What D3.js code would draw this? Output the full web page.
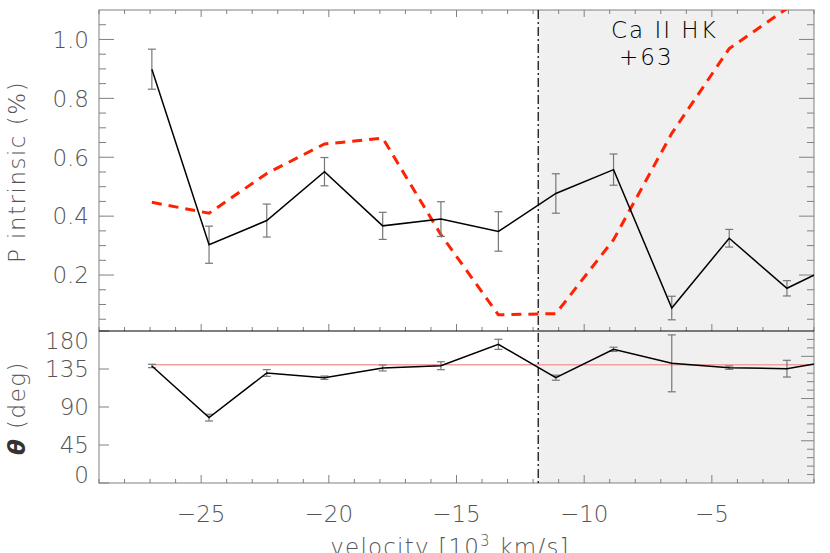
<!DOCTYPE html>
<html>
<head>
<meta charset="utf-8">
<script src="https://cdn.jsdelivr.net/npm/d3@7"></script>
<style>
  body { margin: 0; background: #fff; }
  text { font-family: "DejaVu Sans", sans-serif; font-weight: 200; }
</style>
</head>
<body>
<div id="chart"></div>
<script>
// velocity bins (10^3 km/s), last one falls just outside the plot
var velocity = [-26.93, -24.69, -22.43, -20.17, -17.89, -15.61, -13.36, -11.11, -8.85, -6.57, -4.32, -2.06, 0.2];
var pIntrinsic = [0.899, 0.303, 0.385, 0.551, 0.367, 0.390, 0.348, 0.477, 0.558, 0.088, 0.325, 0.155, 0.25];
var pError = [0.068, 0.063, 0.056, 0.048, 0.046, 0.059, 0.067, 0.067, 0.053, 0.040, 0.030, 0.026, 0.03];
var fluxProfile = [0.447, 0.410, 0.545, 0.645, 0.665, 0.337, 0.065, 0.069, 0.320, 0.681, 0.969, 1.105, 1.2];
var theta = [138.6, 77.4, 130.3, 124.7, 136.2, 138.9, 164.2, 124.7, 158.3, 141.7, 136.6, 135.4, 147];
var thetaError = [2, 4, 4, 2, 3.5, 4.7, 6, 3, 2.5, 33.7, 2, 9.9, 3];
var thetaRef = 140;
var lineVelocity = -11.8;

var xTicks = [-25, -20, -15, -10, -5];
var pTicks = [0.2, 0.4, 0.6, 0.8, 1.0];
var thetaTicks = [0, 45, 90, 135, 180];
var annotation = ["Ca II HK", "+63"];

var svgWidth = 830;
var svgHeight = 553;

var left = 99, right = 814;
var top1 = 10, mid = 331, bottom2 = 483;

var svg = d3.select("#chart")
  .append("svg")
  .attr("width", svgWidth)
  .attr("height", svgHeight);

var xScale = d3.scaleLinear().domain([-29, -1]).range([left, right]);
var yTop = d3.scaleLinear().domain([0.01, 1.1]).range([mid, top1]);
var yBot = d3.scaleLinear().domain([0, 180]).range([bottom2, mid]);

var frameColor = "#808080";
var labelColor = "#555";

// clip paths for the two panels
var defs = svg.append("defs");
defs.append("clipPath").attr("id", "clipTop")
  .append("rect").attr("x", left).attr("y", top1).attr("width", right - left).attr("height", mid - top1);
defs.append("clipPath").attr("id", "clipBot")
  .append("rect").attr("x", left).attr("y", mid).attr("width", right - left).attr("height", bottom2 - mid);

// shaded region right of the line
svg.append("rect")
  .attr("x", xScale(lineVelocity))
  .attr("y", top1)
  .attr("width", right - xScale(lineVelocity))
  .attr("height", bottom2 - top1)
  .attr("fill", "#f0f0f0");

var minorX = d3.range(-29, 0, 1).filter(d => xTicks.indexOf(d) < 0);

// draw the x ticks of a horizontal edge, dir = +1 ticks go down, -1 go up
function xEdge(y, dir, major, minor) {
  var g = svg.append("g");
  g.selectAll(".mj").data(xTicks).enter().append("line")
    .attr("x1", d => xScale(d)).attr("x2", d => xScale(d))
    .attr("y1", y).attr("y2", y + dir * major)
    .attr("stroke", frameColor);
  g.selectAll(".mn").data(minorX).enter().append("line")
    .attr("x1", d => xScale(d)).attr("x2", d => xScale(d))
    .attr("y1", y).attr("y2", y + dir * minor)
    .attr("stroke", frameColor);
}
xEdge(top1, 1, 7, 4);
xEdge(mid, -1, 7, 4);
xEdge(bottom2, -1, 8, 4);

// top panel y ticks (both sides)
var pMinor = d3.range(0.05, 1.1, 0.05).filter(d => pTicks.every(t => Math.abs(t - d) > 1e-6));
[[left, 1], [right, -1]].forEach(function(s) {
  svg.append("g").selectAll("line").data(pTicks).enter().append("line")
    .attr("x1", s[0]).attr("x2", s[0] + s[1] * 15)
    .attr("y1", d => yTop(d)).attr("y2", d => yTop(d))
    .attr("stroke", frameColor);
  svg.append("g").selectAll("line").data(pMinor).enter().append("line")
    .attr("x1", s[0]).attr("x2", s[0] + s[1] * 7)
    .attr("y1", d => yTop(d)).attr("y2", d => yTop(d))
    .attr("stroke", frameColor);
});

// bottom panel y ticks
svg.append("g").selectAll("line").data(thetaTicks).enter().append("line")
  .attr("x1", left).attr("x2", left + 10)
  .attr("y1", d => yBot(d)).attr("y2", d => yBot(d))
  .attr("stroke", frameColor);
svg.append("g").selectAll("line").data(d3.range(10, 180, 10)).enter().append("line")
  .attr("x1", right).attr("x2", d => right - (d % 50 == 0 ? 13 : 7))
  .attr("y1", d => yBot(d)).attr("y2", d => yBot(d))
  .attr("stroke", frameColor);

// frame
svg.append("rect")
  .attr("x", left).attr("y", top1)
  .attr("width", right - left).attr("height", bottom2 - top1)
  .attr("fill", "none")
  .attr("stroke", frameColor);
svg.append("line")
  .attr("x1", left).attr("x2", right)
  .attr("y1", mid).attr("y2", mid)
  .attr("stroke", "#000");

// dash-dot boundary
svg.append("line")
  .attr("x1", xScale(lineVelocity)).attr("x2", xScale(lineVelocity))
  .attr("y1", top1).attr("y2", bottom2)
  .attr("stroke", "#000")
  .attr("stroke-width", 1.2)
  .attr("stroke-dasharray", "9,3,2,3");

// ---- top panel data ----
var topG = svg.append("g").attr("clip-path", "url(#clipTop)");

var rows = velocity.map((v, i) => ({v: v, p: pIntrinsic[i], pe: pError[i], f: fluxProfile[i], t: theta[i], te: thetaError[i]}));

topG.append("path")
  .datum(rows)
  .attr("fill", "none")
  .attr("stroke", "#ff2200")
  .attr("stroke-width", 3)
  .attr("stroke-dasharray", "10,7")
  .attr("d", d3.line().x(d => xScale(d.v)).y(d => yTop(d.f)));

function errorBars(g, yS, key, errKey) {
  var eb = g.append("g").attr("stroke", "#777").attr("stroke-width", 1.2);
  eb.selectAll(".v").data(rows).enter().append("line")
    .attr("x1", d => xScale(d.v)).attr("x2", d => xScale(d.v))
    .attr("y1", d => yS(d[key] - d[errKey])).attr("y2", d => yS(d[key] + d[errKey]));
  eb.selectAll(".lo").data(rows).enter().append("line")
    .attr("x1", d => xScale(d.v) - 4).attr("x2", d => xScale(d.v) + 4)
    .attr("y1", d => yS(d[key] - d[errKey])).attr("y2", d => yS(d[key] - d[errKey]));
  eb.selectAll(".hi").data(rows).enter().append("line")
    .attr("x1", d => xScale(d.v) - 4).attr("x2", d => xScale(d.v) + 4)
    .attr("y1", d => yS(d[key] + d[errKey])).attr("y2", d => yS(d[key] + d[errKey]));
}
errorBars(topG, yTop, "p", "pe");

topG.append("path")
  .datum(rows)
  .attr("fill", "none")
  .attr("stroke", "#000")
  .attr("stroke-width", 1.5)
  .attr("d", d3.line().x(d => xScale(d.v)).y(d => yTop(d.p)));

// ---- bottom panel data ----
var botG = svg.append("g").attr("clip-path", "url(#clipBot)");

botG.append("line")
  .attr("x1", xScale(velocity[0])).attr("x2", right)
  .attr("y1", yBot(thetaRef)).attr("y2", yBot(thetaRef))
  .attr("stroke", "#f4a0a0")
  .attr("stroke-width", 1.5);

errorBars(botG, yBot, "t", "te");

botG.append("path")
  .datum(rows)
  .attr("fill", "none")
  .attr("stroke", "#000")
  .attr("stroke-width", 1.5)
  .attr("d", d3.line().x(d => xScale(d.v)).y(d => yBot(d.t)));

// ---- labels ----
var fs = "23px";

svg.append("g").selectAll("text").data(pTicks).enter().append("text")
  .attr("x", 89).attr("y", d => yTop(d)).attr("dy", "0.36em")
  .attr("text-anchor", "end").attr("fill", labelColor).style("font-size", fs)
  .text(d => d3.format(".1f")(d));

svg.append("g").selectAll("text").data(thetaTicks).enter().append("text")
  .attr("x", 89)
  .attr("y", d => yBot(d) + (d == 180 ? 10 : d == 0 ? -8 : 0))
  .attr("dy", "0.36em")
  .attr("text-anchor", "end").attr("fill", labelColor).style("font-size", fs)
  .text(d => d);

svg.append("g").selectAll("text").data(xTicks).enter().append("text")
  .attr("x", d => xScale(d)).attr("y", 522)
  .attr("text-anchor", "middle").attr("fill", labelColor).style("font-size", fs)
  .text(d => "\u2212" + Math.abs(d));

var xTitle = svg.append("text")
  .attr("x", 450).attr("y", 555)
  .attr("text-anchor", "middle").attr("fill", labelColor).style("font-size", fs)
  .style("letter-spacing", "1.2px");
xTitle.append("tspan").text("velocity [10");
xTitle.append("tspan").attr("dy", -9).style("font-size", "15px").text("3");
xTitle.append("tspan").attr("dy", 9).text(" km/s]");

svg.append("text")
  .attr("transform", "translate(25,172) rotate(-90)")
  .attr("text-anchor", "middle").attr("fill", labelColor).style("font-size", fs)
  .style("letter-spacing", "1.5px")
  .text("P intrinsic (%)");

var tTitle = svg.append("text")
  .attr("transform", "translate(25,408) rotate(-90)")
  .attr("text-anchor", "middle").attr("fill", labelColor).style("font-size", fs)
  .style("letter-spacing", "1.5px");
tTitle.append("tspan").style("font-style", "italic").style("font-weight", "bold").attr("fill", "#333").text("\u03b8");
tTitle.append("tspan").text(" (deg)");

// line label in the shaded region
svg.append("g").selectAll("text").data(annotation).enter().append("text")
  .attr("x", (d, i) => i == 0 ? 611 : 619)
  .attr("y", (d, i) => i == 0 ? 38 : 65)
  .attr("fill", "#000").style("font-size", fs)
  .style("font-weight", 300)
  .style("letter-spacing", "2px")
  .text(d => d);
</script>
</body>
</html>
